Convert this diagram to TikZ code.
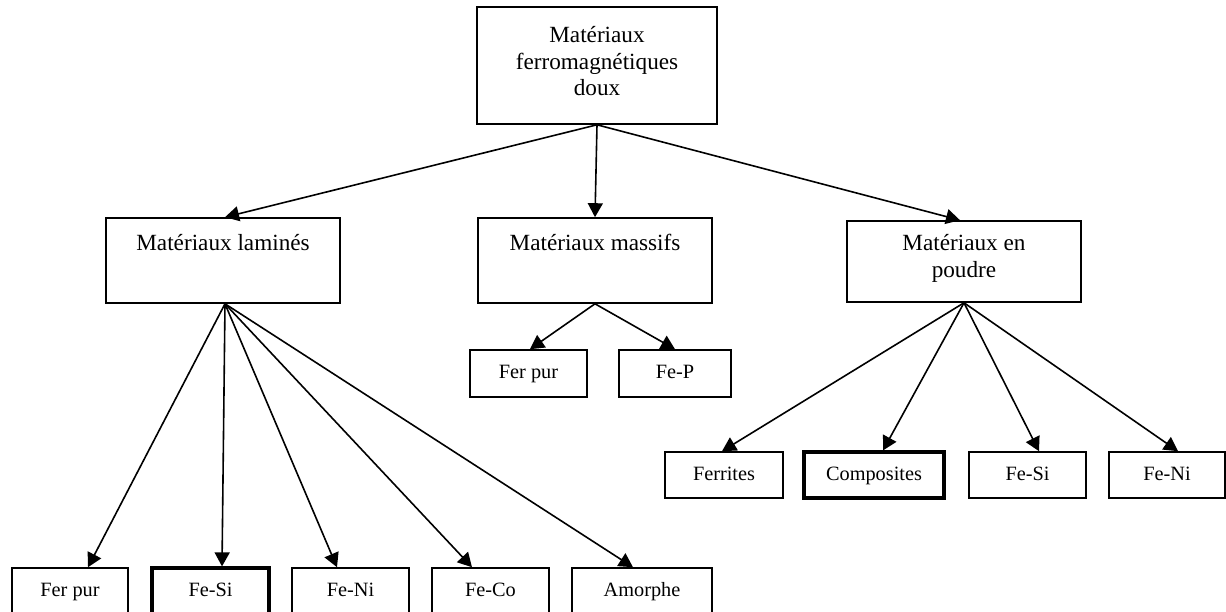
\documentclass[tikz,border=0pt]{standalone}
\usepackage{fontspec}
\setmainfont{Liberation Serif}
\usetikzlibrary{arrows.meta}
\begin{document}
\begin{tikzpicture}[x=1pt,y=-1pt,
  bigbox/.style={draw=black, line width=1.6pt, inner sep=0pt, minimum width=234pt, minimum height=85pt},
  bigtxt/.style={font=\fontsize{23.2}{26.8}\selectfont, align=center, inner sep=0pt},
  sbox/.style={draw=black, line width=1.6pt, inner sep=0pt, minimum height=46pt, text height=14pt, text depth=4pt, font=\fontsize{20.3}{24}\selectfont},
  thickbox/.style={sbox, line width=3.2pt},
  conn/.style={line width=1.6pt, -{Triangle[length=14pt,width=15pt]}}]
\path[use as bounding box, fill=white] (0,0) rectangle (1226,612);

% top level
\node[bigbox, minimum width=240pt, minimum height=117pt] (top) at (597,65.5) {};
\node[bigtxt] (toptxt) at ([yshift=-55pt]top.north) {Matériaux\\ferromagnétiques\\doux};

% second level
\node[bigbox] (lam) at (223,260.5) {};
\node[bigtxt] (lamtxt) at ([yshift=-25pt]lam.north) {Matériaux laminés};
\node[bigbox] (mas) at (595,260.5) {};
\node[bigtxt] (mastxt) at ([yshift=-25pt]mas.north) {Matériaux massifs};
\node[bigbox, minimum height=81pt] (pou) at (964,261.5) {};
\node[bigtxt] (poutxt) at ([yshift=-38pt]pou.north) {Matériaux en\\poudre};

% massifs children
\node[sbox, minimum width=117pt, minimum height=47pt] (mfp) at (528.5,373.5) {Fer pur};
\node[sbox, minimum width=112pt, minimum height=47pt] (mfe) at (675,373.5) {Fe-P};

% poudre children
\node[sbox, minimum width=118pt] (pfe) at (724,475) {Ferrites};
\node[thickbox, minimum width=140pt] (pco) at (874,475) {Composites};
\node[sbox, minimum width=117pt] (psi) at (1027.5,475) {Fe-Si};
\node[sbox, minimum width=116pt] (pni) at (1167,475) {Fe-Ni};

% laminés children
\node[sbox, minimum width=116pt] (lfp) at (70,591) {Fer pur};
\node[thickbox, minimum width=117pt] (lsi) at (210.5,591) {Fe-Si};
\node[sbox, minimum width=117pt] (lni) at (350.5,591) {Fe-Ni};
\node[sbox, minimum width=117pt] (lco) at (490.5,591) {Fe-Co};
\node[sbox, minimum width=140pt] (lam2) at (642,591) {Amorphe};

% connectors from top
\draw[conn] (top.south) -- ([xshift=2pt]lam.north);
\draw[conn] (top.south) -- (mas.north);
\draw[conn] (top.south) -- ([xshift=-4pt]pou.north);

% laminés connectors
\draw[conn] ([xshift=2pt]lam.south) -- ([xshift=18pt]lfp.north);
\draw[conn] ([xshift=2pt]lam.south) -- ([xshift=11.5pt]lsi.north);
\draw[conn] ([xshift=2pt]lam.south) -- ([xshift=-13.5pt]lni.north);
\draw[conn] ([xshift=2pt]lam.south) -- ([xshift=-18.5pt]lco.north);
\draw[conn] ([xshift=2pt]lam.south) -- ([xshift=-9pt]lam2.north);

% massifs connectors
\draw[conn] (mas.south) -- ([xshift=1.5pt]mfp.north);
\draw[conn] (mas.south) -- (mfe.north);

% poudre connectors
\draw[conn] (pou.south) -- ([xshift=-2pt]pfe.north);
\draw[conn] (pou.south) -- ([xshift=9pt]pco.north);
\draw[conn] (pou.south) -- ([xshift=11.5pt]psi.north);
\draw[conn] (pou.south) -- ([xshift=11pt]pni.north);
\end{tikzpicture}
\end{document}
